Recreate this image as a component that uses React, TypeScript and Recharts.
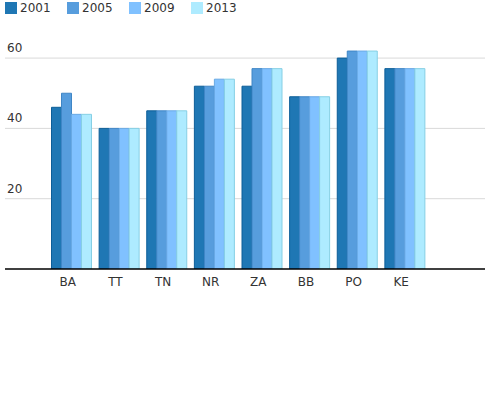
import React from 'react'
import { BarChart, Bar, XAxis, YAxis, CartesianGrid } from 'recharts'

const regions = ['BA', 'TT', 'TN', 'NR', 'ZA', 'BB', 'PO', 'KE']
const v2001 = [46, 40, 45, 52, 52, 49, 60, 57]
const v2005 = [50, 40, 45, 52, 57, 49, 62, 57]
const v2009 = [44, 40, 45, 54, 57, 49, 62, 57]
const v2013 = [44, 40, 45, 54, 57, 49, 62, 57]
const yTicks = [20, 40, 60]

const series = [
  { key: '2001', fill: '#1f77b4', stroke: '#0d5e98' },
  { key: '2005', fill: '#579ddd', stroke: '#3f86c6' },
  { key: '2009', fill: '#80c1ff', stroke: '#68a9e4' },
  { key: '2013', fill: '#aeebff', stroke: '#86cfe4' },
]

const data = regions.map((r, i) => ({
  region: r,
  '2001': v2001[i],
  '2005': v2005[i],
  '2009': v2009[i],
  '2013': v2013[i],
}))

const font = 'DejaVu Sans, sans-serif'

const YTick = (props: any) => {
  const { y, payload } = props
  return (
    <text x={7} y={y - 6} fontSize={12} fontFamily={font} fill="#333" textAnchor="start">
      {payload.value}
    </text>
  )
}

// labels sit a little left of the bar groups in the original
const XTick = (props: any) => {
  const { x, payload } = props
  return (
    <text x={x - 3.5} y={286} fontSize={12} fontFamily={font} fill="#333" textAnchor="middle">
      {payload.value}
    </text>
  )
}

const ChartLegend = () => (
  <div style={{ position: 'absolute', left: 5, top: 1, display: 'flex', fontFamily: font, fontSize: 12, color: '#333' }}>
    {series.map(s => (
      <div key={s.key} style={{ display: 'flex', alignItems: 'center', width: 62 }}>
        <span style={{ display: 'inline-block', width: 12, height: 12, background: s.fill, marginRight: 3 }} />
        <span>{s.key}</span>
      </div>
    ))}
  </div>
)

export default function App() {
  return (
    <div style={{ position: 'absolute', left: 0, top: 0, width: 490, height: 400, background: '#fff' }}>
      <BarChart
        width={490}
        height={400}
        data={data}
        margin={{ top: 37, right: 5, bottom: 101, left: -15 }}
        barGap={0}
      >
        <CartesianGrid vertical={false} stroke="#d9d9d9" horizontalValues={yTicks} />
        <XAxis
          dataKey="region"
          height={30}
          padding={{ left: 42.5, right: 56.5 }}
          tickLine={false}
          axisLine={{ stroke: '#000', strokeWidth: 1.5 }}
          tick={<XTick />}
          interval={0}
        />
        <YAxis
          width={20}
          domain={[0, 66]}
          allowDataOverflow
          ticks={yTicks}
          interval={0}
          axisLine={false}
          tickLine={false}
          tick={(p: any) => <YTick {...p} />}
        />
        {series.map(s => (
          <Bar
            key={s.key}
            dataKey={s.key}
            fill={s.fill}
            stroke={s.stroke}
            barSize={10}
            isAnimationActive={false}
          />
        ))}
      </BarChart>
      <ChartLegend />
    </div>
  )
}
